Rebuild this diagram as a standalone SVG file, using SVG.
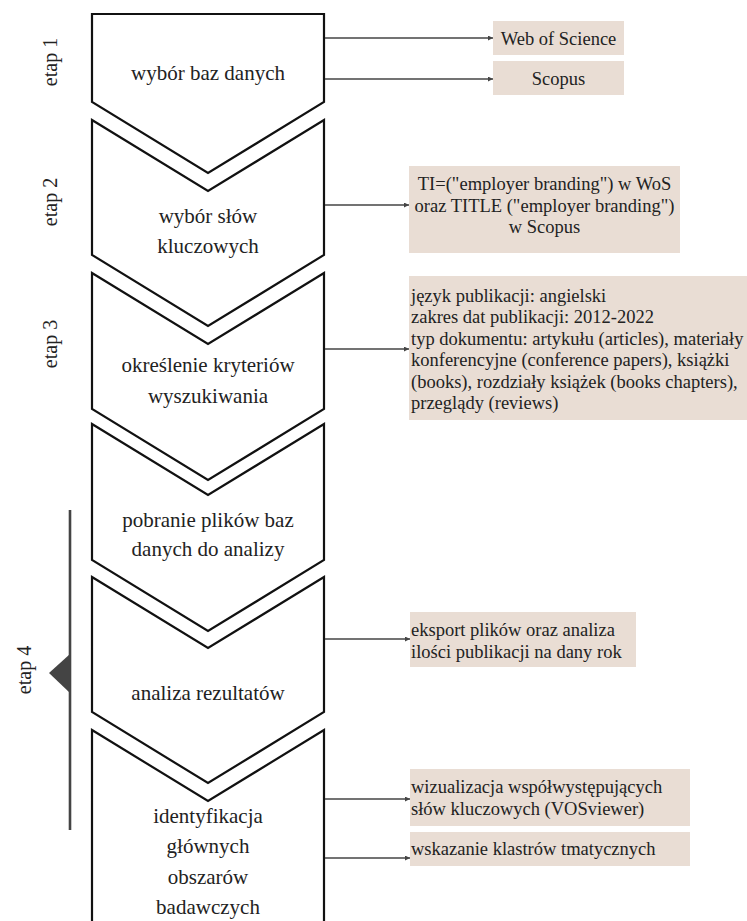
<svg xmlns="http://www.w3.org/2000/svg" width="747" height="921" viewBox="0 0 747 921">
<style>
.shape{fill:#ffffff;stroke:#111111;stroke-width:2.2;stroke-linejoin:miter}
.st{font-family:"Liberation Serif","Times New Roman",serif;font-size:21px;fill:#222222;text-anchor:middle}
.et{font-family:"Liberation Serif","Times New Roman",serif;font-size:20px;fill:#222222;text-anchor:middle}
.box{fill:#e9ddd4}
.bt{font-family:"Liberation Serif","Times New Roman",serif;font-size:18.5px;fill:#222222}
.btc{text-anchor:middle}
.conn{stroke:#444444;stroke-width:1.3;fill:none;marker-end:url(#ah)}
</style>
<defs>
<marker id="ah" viewBox="0 0 6 6" refX="6" refY="3" markerWidth="5" markerHeight="5" markerUnits="userSpaceOnUse" orient="auto">
<path d="M0,0 L6,3 L0,6 z" fill="#444444"/>
</marker>
</defs>
<rect width="747" height="921" fill="#ffffff"/>

<g id="stage-labels">
<text class="et" transform="translate(57,62) rotate(-90)">etap 1</text>
<text class="et" transform="translate(57,202) rotate(-90)">etap 2</text>
<text class="et" transform="translate(57,344) rotate(-90)">etap 3</text>
<text class="et" transform="translate(31,670) rotate(-90)">etap 4</text>
</g>

<g id="etap4-bracket">
<line x1="70" y1="510" x2="70" y2="830" stroke="#444444" stroke-width="2.6"/>
<polygon points="70,654 70,693 49,673" fill="#444444"/>
</g>

<g id="step1">
<path class="shape" d="M92,14 L324,14 L324,102 L208,173 L92,102 Z"/>
<text class="st" x="208" y="80">wybór baz danych</text>
</g>
<g id="step2">
<path class="shape" d="M92,120 L208,191 L324,120 L324,255 L208,326 L92,255 Z"/>
<text class="st" x="208" y="223">wybór słów</text>
<text class="st" x="208" y="253">kluczowych</text>
</g>
<g id="step3">
<path class="shape" d="M92,273 L208,344 L324,273 L324,409 L208,480 L92,409 Z"/>
<text class="st" x="208" y="372">określenie kryteriów</text>
<text class="st" x="208" y="403">wyszukiwania</text>
</g>
<g id="step4">
<path class="shape" d="M92,424 L208,495 L324,424 L324,560 L208,631 L92,560 Z"/>
<text class="st" x="208" y="527">pobranie plików baz</text>
<text class="st" x="208" y="556">danych do analizy</text>
</g>
<g id="step5">
<path class="shape" d="M92,577 L208,648 L324,577 L324,712 L208,783 L92,712 Z"/>
<text class="st" x="208" y="700">analiza rezultatów</text>
</g>
<g id="step6">
<path class="shape" d="M92,730 L208,801 L324,730 L324,930 L92,930 Z"/>
<text class="st" x="208" y="823">identyfikacja</text>
<text class="st" x="208" y="853">głównych</text>
<text class="st" x="208" y="884">obszarów</text>
<text class="st" x="208" y="914">badawczych</text>
</g>

<g id="box-wos">
<rect class="box" x="493" y="21" width="131" height="34"/>
<text class="bt btc" x="558.5" y="45">Web of Science</text>
</g>
<g id="box-scopus">
<rect class="box" x="493" y="61" width="131" height="34"/>
<text class="bt btc" x="558.5" y="85">Scopus</text>
</g>
<g id="box-keywords">
<rect class="box" x="409" y="166" width="271" height="87"/>
<text class="bt btc" x="544.5" y="190">TI=("employer branding") w WoS</text>
<text class="bt btc" x="544.5" y="212">oraz TITLE ("employer branding")</text>
<text class="bt btc" x="544.5" y="233">w Scopus</text>
</g>
<g id="box-criteria">
<rect class="box" x="409" y="276" width="338" height="144"/>
<text class="bt" x="411" y="302">język publikacji: angielski</text>
<text class="bt" x="411" y="323">zakres dat publikacji: 2012-2022</text>
<text class="bt" x="411" y="345">typ dokumentu: artykułu (articles), materiały</text>
<text class="bt" x="411" y="366">konferencyjne (conference papers), książki</text>
<text class="bt" x="411" y="388">(books), rozdziały książek (books chapters),</text>
<text class="bt" x="411" y="409">przeglądy (reviews)</text>
</g>
<g id="box-export">
<rect class="box" x="410" y="612" width="226" height="55"/>
<text class="bt" x="411" y="636">eksport plików oraz analiza</text>
<text class="bt" x="411" y="658">ilości publikacji na dany rok</text>
</g>
<g id="box-vos">
<rect class="box" x="410" y="769" width="280" height="57"/>
<text class="bt" x="411" y="793">wizualizacja współwystępujących</text>
<text class="bt" x="411" y="815">słów kluczowych (VOSviewer)</text>
</g>
<g id="box-clusters">
<rect class="box" x="410" y="832" width="280" height="34"/>
<text class="bt" x="411" y="855">wskazanie klastrów tmatycznych</text>
</g>

<g id="connectors">
<line class="conn" x1="325" y1="38" x2="493" y2="38"/>
<line class="conn" x1="325" y1="79" x2="493" y2="79"/>
<line class="conn" x1="325" y1="205" x2="409" y2="205"/>
<line class="conn" x1="325" y1="349" x2="409" y2="349"/>
<line class="conn" x1="325" y1="639" x2="410" y2="639"/>
<line class="conn" x1="325" y1="799" x2="410" y2="799"/>
<line class="conn" x1="325" y1="858" x2="410" y2="858"/>
</g>
</svg>
